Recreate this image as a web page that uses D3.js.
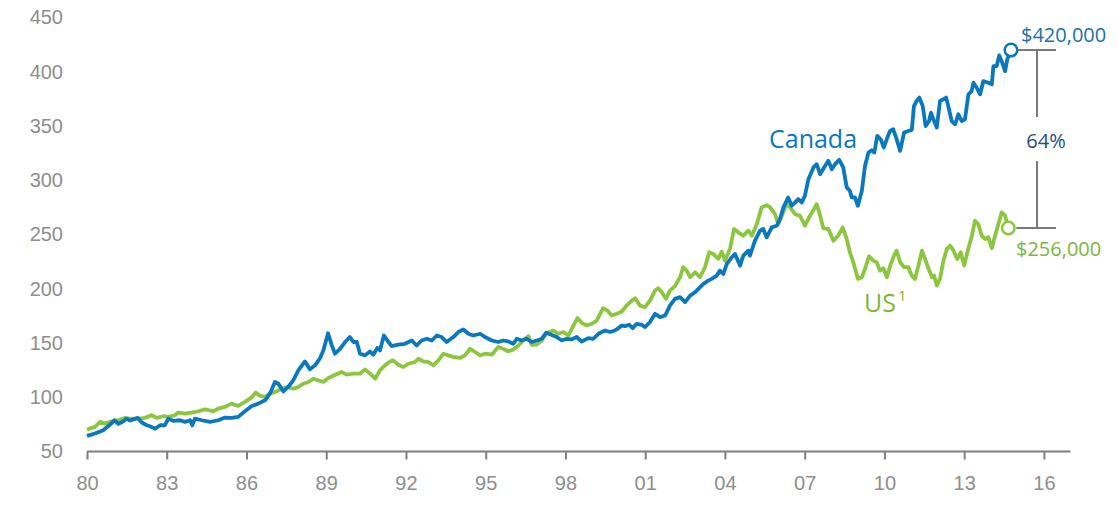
<!doctype html>
<html lang="en">

<head>
    <meta charset="utf-8">
    <title>Canada vs US house prices</title>
    <script src="https://cdn.jsdelivr.net/npm/d3@7"></script>
    <style>
        body {
            margin: 0;
            background: #ffffff;
        }

        svg {
            font-family: "Open Sans", sans-serif;
        }

        .axis text {
            fill: #8e8e8e;
            font-size: 20px;
        }

        .axis path,
        .axis line {
            stroke: #7f7f7f;
            stroke-width: 2;
        }
    </style>
</head>

<body>
    <svg></svg>
    <script>
        var width = 1118;
        var height = 508;

        // tick values
        var xTicks = [1980, 1983, 1986, 1989, 1992, 1995, 1998, 2001, 2004, 2007, 2010, 2013, 2016];
        var yTicks = [50, 100, 150, 200, 250, 300, 350, 400, 450];

        // series, [year, index value]
        var canada = [
            [1980.00, 64.4], [1980.30, 66.6], [1980.61, 69.6], [1980.87, 74.8], [1981.03, 78.8], [1981.18, 75.5],
            [1981.37, 77.9], [1981.49, 80.3], [1981.62, 78.5], [1981.91, 81.0], [1982.06, 76.7], [1982.25, 74.2],
            [1982.37, 73.3], [1982.56, 71.1], [1982.75, 74.2], [1982.93, 74.2], [1983.06, 80.3], [1983.25, 78.2],
            [1983.50, 78.8], [1983.69, 77.3], [1983.88, 78.8], [1983.96, 74.2], [1984.06, 80.3], [1984.32, 78.8],
            [1984.63, 77.3], [1984.94, 78.8], [1985.19, 81.3], [1985.44, 81.0], [1985.69, 81.9], [1985.94, 87.1],
            [1986.20, 92.0], [1986.44, 94.1], [1986.70, 97.2], [1986.88, 103.3], [1987.07, 114.1], [1987.20, 112.5],
            [1987.39, 105.4], [1987.57, 109.5], [1987.76, 115.6], [1987.95, 124.8], [1988.20, 133.0], [1988.39, 125.7],
            [1988.58, 129.4], [1988.77, 136.2], [1988.89, 143.1], [1989.07, 159.0], [1989.20, 148.5], [1989.33, 140.1],
            [1989.52, 144.7], [1989.71, 150.9], [1989.89, 155.5], [1990.02, 150.9], [1990.15, 150.9], [1990.27, 140.1],
            [1990.46, 138.6], [1990.65, 142.2], [1990.77, 139.2], [1990.92, 145.4], [1991.02, 143.1], [1991.17, 156.9],
            [1991.30, 152.3], [1991.46, 147.2], [1991.71, 148.4], [1991.96, 149.3], [1992.22, 152.3], [1992.40, 147.7],
            [1992.59, 152.3], [1992.78, 153.9], [1992.97, 152.3], [1993.16, 156.9], [1993.34, 155.5], [1993.53, 150.9],
            [1993.78, 155.5], [1993.97, 160.1], [1994.16, 162.5], [1994.35, 158.5], [1994.53, 156.9], [1994.79, 158.5],
            [1994.97, 155.5], [1995.23, 152.3], [1995.47, 150.9], [1995.66, 152.3], [1995.85, 151.4], [1996.04, 149.3],
            [1996.17, 153.9], [1996.35, 152.3], [1996.54, 153.9], [1996.73, 150.9], [1996.92, 152.3], [1997.11, 153.9],
            [1997.27, 159.4], [1997.42, 158.0], [1997.67, 155.5], [1997.86, 152.3], [1998.05, 153.9], [1998.24, 153.3],
            [1998.42, 155.5], [1998.61, 151.4], [1998.86, 154.5], [1999.05, 153.9], [1999.24, 158.5], [1999.49, 161.5],
            [1999.68, 160.1], [1999.86, 161.5], [1999.99, 163.7], [2000.12, 166.1], [2000.24, 165.6], [2000.40, 166.8],
            [2000.53, 163.7], [2000.68, 167.7], [2000.87, 166.8], [2000.99, 164.7], [2001.18, 169.3], [2001.37, 176.9],
            [2001.56, 173.9], [2001.75, 175.3], [2001.93, 184.5], [2002.12, 190.7], [2002.31, 192.3], [2002.50, 187.7],
            [2002.69, 193.7], [2002.88, 196.9], [2003.00, 199.9], [2003.19, 204.5], [2003.37, 207.5], [2003.50, 209.1],
            [2003.69, 212.1], [2003.81, 216.7], [2003.94, 213.7], [2004.07, 222.9], [2004.26, 229.0], [2004.38, 232.1],
            [2004.57, 221.3], [2004.69, 230.5], [2004.88, 235.1], [2004.94, 230.5], [2005.13, 244.3], [2005.32, 253.5],
            [2005.44, 255.1], [2005.57, 247.4], [2005.76, 256.6], [2005.95, 258.1], [2006.07, 264.3], [2006.20, 275.0],
            [2006.38, 284.2], [2006.51, 276.5], [2006.64, 279.6], [2006.76, 282.6], [2006.89, 279.6], [2007.01, 285.8],
            [2007.14, 301.0], [2007.33, 311.8], [2007.45, 314.8], [2007.58, 305.6], [2007.77, 313.3], [2007.89, 317.9],
            [2008.02, 310.2], [2008.14, 314.8], [2008.30, 318.8], [2008.45, 311.8], [2008.58, 293.4], [2008.70, 290.3],
            [2008.77, 284.2], [2008.89, 284.2], [2009.00, 276.5], [2009.15, 290.3], [2009.27, 313.3], [2009.40, 325.6],
            [2009.52, 327.7], [2009.62, 325.6], [2009.73, 340.9], [2009.86, 337.8], [2009.98, 330.2], [2010.11, 339.4],
            [2010.21, 345.4], [2010.33, 347.0], [2010.46, 337.8], [2010.59, 327.1], [2010.74, 344.0], [2010.90, 345.4],
            [2011.03, 346.4], [2011.11, 368.4], [2011.21, 373.0], [2011.31, 376.2], [2011.44, 368.4], [2011.55, 350.0],
            [2011.68, 354.6], [2011.75, 362.3], [2011.84, 356.2], [2011.97, 348.6], [2012.09, 373.0], [2012.22, 374.6],
            [2012.32, 376.2], [2012.40, 368.4], [2012.53, 354.6], [2012.66, 351.6], [2012.78, 360.8], [2012.91, 354.6],
            [2013.03, 356.2], [2013.16, 379.2], [2013.28, 382.2], [2013.35, 389.9], [2013.47, 385.3], [2013.60, 379.2],
            [2013.72, 391.4], [2013.91, 389.9], [2014.04, 388.4], [2014.10, 405.2], [2014.22, 405.2], [2014.32, 415.1],
            [2014.41, 409.8], [2014.54, 400.6], [2014.62, 411.4], [2014.76, 420.0]
        ];

        var us = [
            [1980.00, 70.2], [1980.30, 72.7], [1980.49, 77.3], [1980.68, 75.7], [1980.93, 77.9], [1981.18, 78.8],
            [1981.43, 81.0], [1981.62, 80.3], [1981.93, 80.3], [1982.18, 81.0], [1982.43, 83.4], [1982.62, 81.0],
            [1982.87, 82.5], [1983.06, 81.9], [1983.31, 83.4], [1983.43, 85.9], [1983.69, 84.9], [1983.94, 85.9],
            [1984.19, 87.1], [1984.44, 88.9], [1984.75, 87.1], [1984.94, 89.5], [1985.19, 91.1], [1985.44, 94.1],
            [1985.69, 92.0], [1985.94, 95.7], [1986.17, 99.4], [1986.35, 104.3], [1986.51, 101.2], [1986.70, 100.3],
            [1986.88, 103.3], [1987.07, 104.9], [1987.33, 107.9], [1987.51, 109.5], [1987.76, 107.9], [1987.95, 109.5],
            [1988.14, 112.5], [1988.33, 114.1], [1988.51, 117.1], [1988.70, 115.6], [1988.89, 114.1], [1989.08, 117.8],
            [1989.30, 120.2], [1989.58, 123.3], [1989.77, 120.8], [1990.02, 121.7], [1990.27, 121.7], [1990.46, 125.7],
            [1990.65, 121.7], [1990.84, 117.1], [1991.02, 124.8], [1991.21, 129.4], [1991.40, 133.0], [1991.52, 134.0],
            [1991.71, 130.0], [1991.90, 127.9], [1992.09, 130.9], [1992.34, 132.5], [1992.46, 135.5], [1992.65, 133.0],
            [1992.84, 132.5], [1993.03, 129.4], [1993.22, 134.0], [1993.40, 140.1], [1993.59, 138.6], [1993.78, 137.1],
            [1994.03, 136.2], [1994.22, 138.6], [1994.41, 144.7], [1994.60, 141.7], [1994.79, 138.6], [1994.97, 140.1],
            [1995.23, 139.2], [1995.47, 146.3], [1995.66, 144.7], [1995.85, 142.2], [1996.04, 144.0], [1996.23, 147.7],
            [1996.41, 152.3], [1996.60, 156.4], [1996.73, 148.4], [1996.92, 148.5], [1997.11, 152.3], [1997.30, 159.4],
            [1997.54, 161.5], [1997.73, 158.5], [1997.92, 160.1], [1998.11, 156.9], [1998.30, 166.1], [1998.45, 173.0],
            [1998.61, 168.6], [1998.80, 166.1], [1998.99, 167.7], [1999.18, 170.7], [1999.30, 176.9], [1999.42, 182.1],
            [1999.58, 179.9], [1999.74, 175.3], [1999.93, 176.9], [2000.12, 179.0], [2000.30, 184.5], [2000.49, 189.1],
            [2000.62, 191.3], [2000.80, 184.5], [2000.99, 183.1], [2001.18, 189.1], [2001.37, 198.3], [2001.49, 200.5],
            [2001.62, 196.9], [2001.78, 190.7], [2001.93, 198.3], [2002.12, 202.4], [2002.31, 210.6], [2002.43, 219.8],
            [2002.56, 216.7], [2002.69, 210.6], [2002.88, 215.2], [2003.06, 210.6], [2003.25, 219.8], [2003.41, 233.6],
            [2003.56, 232.1], [2003.75, 227.5], [2003.88, 234.2], [2004.00, 225.9], [2004.19, 236.7], [2004.34, 255.1],
            [2004.50, 252.0], [2004.69, 248.9], [2004.88, 253.5], [2005.01, 248.9], [2005.20, 259.7], [2005.38, 275.0],
            [2005.57, 277.0], [2005.70, 275.0], [2005.88, 269.0], [2006.01, 259.7], [2006.14, 267.3], [2006.32, 278.0],
            [2006.45, 275.0], [2006.64, 268.8], [2006.82, 267.3], [2007.01, 258.1], [2007.20, 267.3], [2007.32, 271.9],
            [2007.45, 278.0], [2007.55, 270.4], [2007.70, 255.7], [2007.89, 255.1], [2008.08, 244.3], [2008.26, 248.9],
            [2008.43, 256.6], [2008.58, 245.9], [2008.70, 233.6], [2008.83, 224.4], [2009.00, 209.1], [2009.15, 210.6],
            [2009.27, 218.3], [2009.42, 230.0], [2009.58, 225.9], [2009.71, 224.4], [2009.83, 216.7], [2009.96, 218.9],
            [2010.09, 210.6], [2010.24, 222.9], [2010.36, 230.5], [2010.46, 235.1], [2010.59, 224.4], [2010.74, 219.8],
            [2010.90, 219.8], [2011.03, 212.1], [2011.15, 209.1], [2011.28, 221.3], [2011.41, 235.1], [2011.53, 227.5],
            [2011.66, 218.3], [2011.79, 210.6], [2011.87, 212.1], [2011.97, 202.9], [2012.09, 209.1], [2012.22, 225.9],
            [2012.35, 236.7], [2012.47, 239.7], [2012.60, 235.1], [2012.74, 227.5], [2012.87, 233.6], [2013.00, 221.3],
            [2013.12, 233.6], [2013.29, 248.9], [2013.41, 262.7], [2013.53, 259.7], [2013.66, 248.9], [2013.78, 245.9],
            [2013.91, 247.4], [2014.04, 237.3], [2014.16, 248.9], [2014.29, 259.7], [2014.41, 270.4], [2014.54, 267.3],
            [2014.66, 256.0]
        ];

        var canadaEnd = "$420,000";
        var usEnd = "$256,000";
        var gapLabel = "64%";

        var blue = "#0a78bf";
        var green = "#8cc63f";

        var svg = d3.select("svg").attr("width", width).attr("height", height);

        var xScale = d3.scaleLinear()
            .domain([1980, 2017])
            .range([87, 1070.5]);
        var yScale = d3.scaleLinear()
            .domain([50, 450])
            .range([451.5, 17.5]);

        // x axis
        var xAxis = d3.axisBottom(xScale)
            .tickValues(xTicks)
            .tickSize(8)
            .tickPadding(16)
            .tickFormat(function (d) { return String(d % 100).padStart(2, "0"); });
        var gx = svg.append("g")
            .attr("class", "axis")
            .attr("transform", "translate(0," + yScale(50) + ")")
            .call(xAxis);
        gx.select(".domain").attr("d", "M" + xScale(1980) + ",0H" + xScale(2017));

        // y axis (labels only)
        var yAxis = d3.axisLeft(yScale)
            .tickValues(yTicks)
            .tickSize(0)
            .tickPadding(0);
        var gy = svg.append("g")
            .attr("class", "axis")
            .attr("transform", "translate(63,0)")
            .call(yAxis);
        gy.select(".domain").remove();

        var line = d3.line()
            .x(function (d) { return xScale(d[0]); })
            .y(function (d) { return yScale(d[1]); });

        svg.append("path")
            .datum(us)
            .attr("d", line)
            .attr("fill", "none")
            .attr("stroke", green)
            .attr("stroke-width", 3.8)
            .attr("stroke-linejoin", "round");

        svg.append("path")
            .datum(canada)
            .attr("d", line)
            .attr("fill", "none")
            .attr("stroke", blue)
            .attr("stroke-width", 3.8)
            .attr("stroke-linejoin", "round");

        var cLast = canada[canada.length - 1];
        var uLast = us[us.length - 1];

        // bracket between the end points
        var bx = 1037;
        var bracket = svg.append("g").attr("stroke", "#7a7a7a").attr("stroke-width", 2);
        bracket.append("line")
            .attr("x1", xScale(cLast[0]) + 5).attr("x2", 1056)
            .attr("y1", yScale(cLast[1])).attr("y2", yScale(cLast[1]));
        bracket.append("line")
            .attr("x1", xScale(uLast[0]) + 8).attr("x2", 1056)
            .attr("y1", yScale(uLast[1])).attr("y2", yScale(uLast[1]));
        bracket.append("line")
            .attr("x1", bx).attr("x2", bx)
            .attr("y1", yScale(cLast[1])).attr("y2", 117);
        bracket.append("line")
            .attr("x1", bx).attr("x2", bx)
            .attr("y1", 161).attr("y2", yScale(uLast[1]));

        svg.append("text")
            .attr("x", 1046).attr("y", 148)
            .attr("text-anchor", "middle")
            .attr("font-size", "20px")
            .attr("fill", "#1d4f80")
            .text(gapLabel);

        // end markers
        svg.append("circle")
            .attr("cx", xScale(cLast[0])).attr("cy", yScale(cLast[1])).attr("r", 6.3)
            .attr("fill", "#ffffff").attr("stroke", blue).attr("stroke-width", 2.5);
        svg.append("circle")
            .attr("cx", xScale(uLast[0])).attr("cy", yScale(uLast[1])).attr("r", 6.3)
            .attr("fill", "#ffffff").attr("stroke", green).attr("stroke-width", 2.5);

        svg.append("text")
            .attr("x", 1021).attr("y", 42)
            .attr("font-size", "20px")
            .attr("fill", "#1a6fae")
            .text(canadaEnd);
        svg.append("text")
            .attr("x", 1016).attr("y", 256)
            .attr("font-size", "20px")
            .attr("fill", "#7db63c")
            .text(usEnd);

        // series labels
        svg.append("text")
            .attr("x", 769).attr("y", 148)
            .attr("font-size", "25px")
            .attr("fill", blue)
            .text("Canada");
        var usLabel = svg.append("text")
            .attr("x", 864).attr("y", 312)
            .attr("font-size", "25px")
            .attr("fill", "#7db63c")
            .text("US");
        usLabel.append("tspan")
            .attr("dx", 2).attr("dy", -11)
            .attr("font-size", "15px")
            .text("1");
    </script>

</body>

</html>
